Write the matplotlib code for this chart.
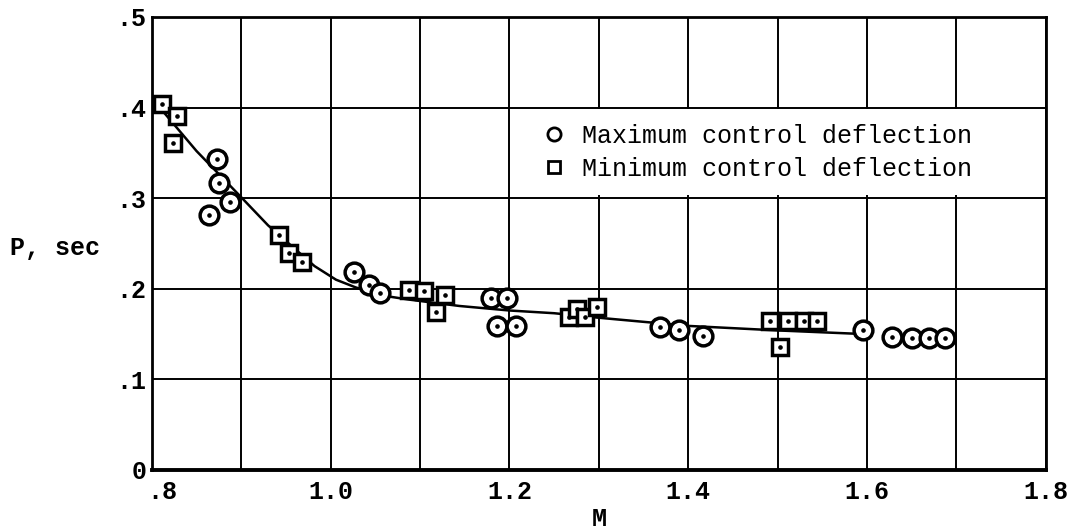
import numpy as np
import matplotlib
matplotlib.use("Agg")
import matplotlib.pyplot as plt
import matplotlib.transforms as mtransforms
from matplotlib.lines import Line2D

# Maximum control deflection (circles)
max_m = [0.864, 0.873, 0.875, 0.887, 1.026, 1.043, 1.055, 1.179, 1.197, 1.186,
         1.207, 1.368, 1.390, 1.417, 1.596, 1.628, 1.650, 1.669, 1.687]
max_p = [0.281, 0.343, 0.317, 0.296, 0.218, 0.204, 0.195, 0.190, 0.190, 0.159,
         0.159, 0.158, 0.155, 0.148, 0.155, 0.147, 0.146, 0.146, 0.146]

# Minimum control deflection (squares)
min_m = [0.811, 0.828, 0.824, 0.942, 0.953, 0.968, 1.088, 1.105, 1.128, 1.118,
         1.267, 1.276, 1.285, 1.298, 1.492, 1.512, 1.529, 1.544, 1.503]
min_p = [0.404, 0.391, 0.361, 0.259, 0.240, 0.229, 0.199, 0.198, 0.193, 0.174,
         0.169, 0.178, 0.169, 0.180, 0.164, 0.164, 0.164, 0.164, 0.136]

# faired curve
fair_m = [0.808, 0.85, 0.90, 0.93, 0.96, 0.982, 1.006, 1.028, 1.058, 1.088,
          1.144, 1.20, 1.25, 1.30, 1.40, 1.50, 1.596]
fair_p = [0.401, 0.352, 0.301, 0.270, 0.244, 0.225, 0.210, 0.2015, 0.1925, 0.188,
          0.181, 0.176, 0.173, 0.168, 0.159, 0.154, 0.150]

x_ticks = [0.8, 1.0, 1.2, 1.4, 1.6, 1.8]
x_labels = [".8", "1.0", "1.2", "1.4", "1.6", "1.8"]
y_ticks = [0.0, 0.1, 0.2, 0.3, 0.4, 0.5]
y_labels = ["0", ".1", ".2", ".3", ".4", ".5"]

FONT = "Liberation Mono"

fig = plt.figure(figsize=(10.77, 5.31), dpi=100)
ax = fig.add_axes([0.141, 0.115, 0.830, 0.853])

ax.set_xlim(0.8, 1.8)
ax.set_ylim(0, 0.5)

ax.set_xticks(x_ticks)
ax.set_xticks(np.arange(0.9, 1.8, 0.2), minor=True)
ax.set_yticks(y_ticks)
ax.set_xticklabels(x_labels, fontfamily=FONT, fontsize=18, fontweight="bold")
ax.set_yticklabels(y_labels, fontfamily=FONT, fontsize=18, fontweight="bold")
ax.tick_params(which="both", length=0)
ax.tick_params(axis="x", pad=7)
ax.tick_params(axis="y", pad=4)

# the ".8" label sits a little right of the corner, clear of the "0"
first = ax.get_xticklabels()[0]
first.set_transform(first.get_transform() +
                    mtransforms.ScaledTranslation(10 / 100, 0, fig.dpi_scale_trans))

ax.grid(True, which="both", color="black", linewidth=1.4)
for side in ["left", "right", "top"]:
    ax.spines[side].set_linewidth(2.0)
ax.spines["bottom"].set_linewidth(2.8)

ax.plot(fair_m, fair_p, color="black", linewidth=1.8, zorder=3)

ax.plot(max_m, max_p, linestyle="none", marker="o", markersize=13.5,
        markerfacecolor="white", markeredgecolor="black", markeredgewidth=2.5, zorder=4)
ax.plot(min_m, min_p, linestyle="none", marker="s", markersize=11.5,
        markerfacecolor="white", markeredgecolor="black", markeredgewidth=2.5, zorder=4)
# center dots
ax.plot(max_m + min_m, max_p + min_p, linestyle="none", marker="o", markersize=2.3,
        color="black", zorder=5)

handles = [
    Line2D([], [], linestyle="none", marker="o", markersize=9.5, markerfacecolor="white",
           markeredgecolor="black", markeredgewidth=2.0),
    Line2D([], [], linestyle="none", marker="s", markersize=8.0, markerfacecolor="white",
           markeredgecolor="black", markeredgewidth=2.0),
]
leg = ax.legend(handles, ["Maximum control deflection", "Minimum control deflection"],
                loc="upper left", bbox_to_anchor=(1.220, 0.398), bbox_transform=ax.transData,
                borderaxespad=0, prop={"family": FONT, "size": 18},
                frameon=True, fancybox=False, framealpha=1, facecolor="white",
                edgecolor="none", handlelength=1.0, handletextpad=0.62,
                labelspacing=0.35, borderpad=0.58)
leg.set_zorder(6)

ax.set_xlabel("M", fontfamily=FONT, fontsize=18, fontweight="bold", va="center")
ax.xaxis.set_label_coords(0.5, -0.108)
ax.set_ylabel("P, sec", fontfamily=FONT, fontsize=18, fontweight="bold",
              rotation=0, ha="center", va="center")
ax.yaxis.set_label_coords(-0.108, 0.49)

fig.savefig("out.png", dpi=100)
